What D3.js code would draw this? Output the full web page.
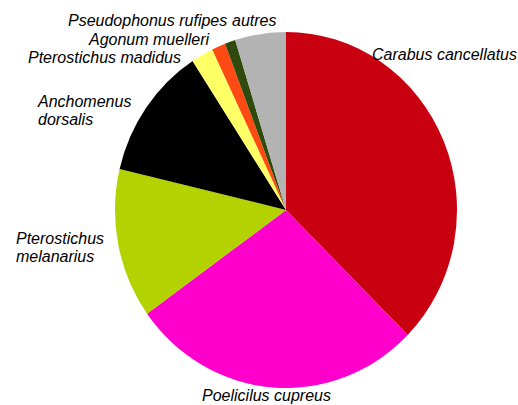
<!DOCTYPE html>
<html lang="en">
<head>
    <meta charset="UTF-8">
    <title>Carabidae</title>
    <script src="https://d3js.org/d3.v7.min.js"></script>
    <style>
        body { margin: 0; background: white; }
        text {
            font-family: 'Liberation Sans', Arial, sans-serif;
            font-size: 16px;
            font-style: italic;
            fill: black;
        }
    </style>
</head>
<body>
<script>

    const width = 518;
    const height = 405;

    // share of each species (%), clockwise from 12 o'clock
    const species = ['Carabus cancellatus', 'Poelicilus cupreus', 'Pterostichus melanarius', 'Anchomenus dorsalis',
        'Pterostichus madidus', 'Agonum muelleri', 'Pseudophonus rufipes', 'autres'];
    const values = [37.4, 27.7, 13.6, 12.1, 2.1, 1.3, 1.0, 4.8];
    const colors = ['#c8000f', '#ff00cc', '#b3d200', '#000000', '#ffff66', '#ff4a14', '#2e4a0c', '#b3b3b3'];

    // label text lines and where they sit (layout only)
    const labelLines = [['Carabus cancellatus'], ['Poelicilus cupreus'], ['Pterostichus', 'melanarius'],
        ['Anchomenus', 'dorsalis'], ['Pterostichus madidus'], ['Agonum muelleri'], ['Pseudophonus rufipes'], ['autres']];
    const labelPos = [[372, 60], [202, 401], [16, 244], [38, 107], [28, 63], [89, 45], [68, 26], [232, 26]];

    const cx = 286, cy = 210;
    const rx = 171, ry = 178;

    const pie = d3.pie().sort(null).value(d => d);
    const arcs = pie(values);
    const arc = d3.arc().innerRadius(0).outerRadius(ry);

    const svg = d3.select("body").append("svg").attr("width", width).attr("height", height);
    const chart = svg.append("g").attr("transform", `translate(${cx},${cy}) scale(${rx / ry},1)`);

    chart.selectAll('path.slice')
            .data(arcs)
            .enter().append("path").attr("class", 'slice')
            .attr("d", arc)
            .style("fill", (d, i) => colors[i]);

    const labels = svg.selectAll("text.label")
            .data(labelLines)
            .enter().append("text").attr("class", "label")
            .attr("x", (d, i) => labelPos[i][0])
            .attr("y", (d, i) => labelPos[i][1]);

    labels.selectAll("tspan")
            .data((d, i) => d.map(t => ({t, x: labelPos[i][0]})))
            .enter().append("tspan")
            .attr("x", d => d.x)
            .attr("dy", (d, j) => j === 0 ? 0 : 18)
            .text(d => d.t);

</script>
</body>
</html>
